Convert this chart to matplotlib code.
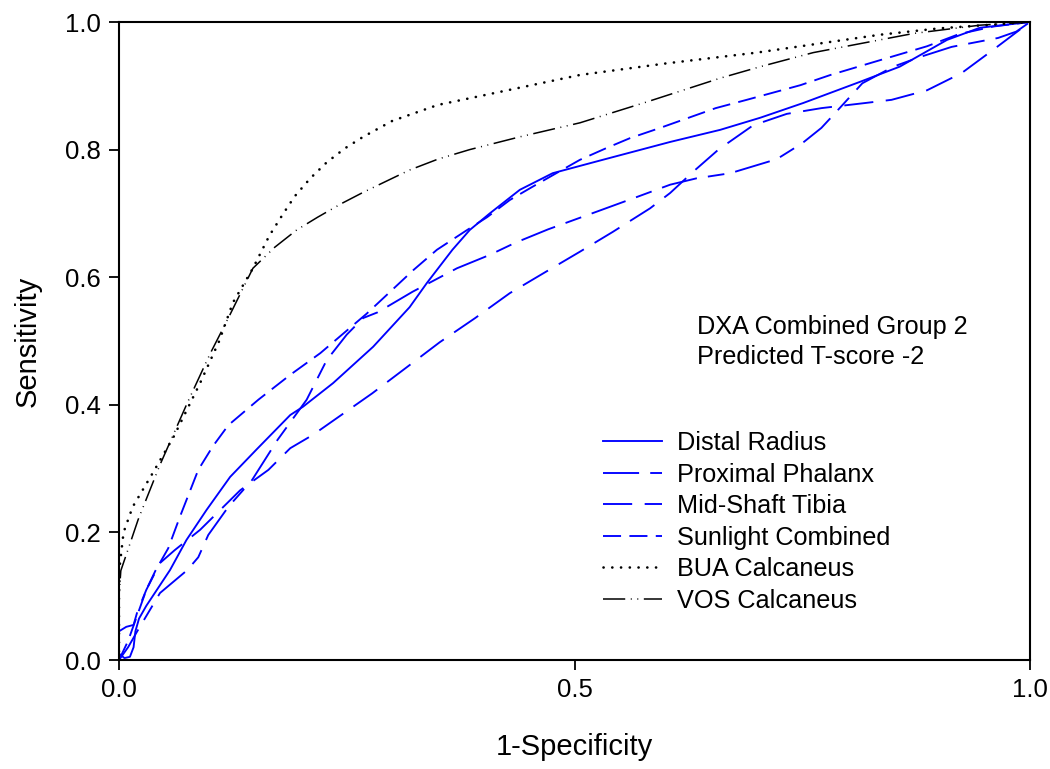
import matplotlib
matplotlib.use("Agg")
import matplotlib.pyplot as plt

plt.rcParams['font.family'] = ['Liberation Sans', 'DejaVu Sans']
plt.rcParams['lines.scale_dashes'] = False

# ROC curves: (1-specificity, sensitivity)
radius_x = [0, 0.006, 0.012, 0.016, 0.018, 0.022, 0.03, 0.056, 0.074, 0.096, 0.122, 0.151,
            0.188, 0.202, 0.235, 0.279, 0.319, 0.338, 0.366, 0.385, 0.407, 0.44, 0.476,
            0.531, 0.605, 0.66, 0.704, 0.751, 0.813, 0.857, 0.909, 0.945, 1.0]
radius_y = [0.01, 0.003, 0.005, 0.02, 0.045, 0.065, 0.085, 0.141, 0.188, 0.235, 0.287, 0.33,
            0.384, 0.397, 0.434, 0.491, 0.553, 0.591, 0.643, 0.674, 0.70, 0.737, 0.763,
            0.784, 0.812, 0.831, 0.85, 0.873, 0.906, 0.93, 0.972, 0.991, 1.0]

phalanx_x = [0, 0.01, 0.02, 0.045, 0.075, 0.087, 0.098, 0.12, 0.146, 0.174, 0.206, 0.228,
             0.25, 0.268, 0.284, 0.322, 0.371, 0.407, 0.435, 0.471, 0.523, 0.569, 0.605,
             0.634, 0.671, 0.722, 0.75, 0.771, 0.784, 0.816, 0.85, 0.879, 0.914, 0.965,
             0.985, 1.0]
phalanx_y = [0, 0.02, 0.045, 0.105, 0.141, 0.161, 0.196, 0.24, 0.282, 0.345, 0.408, 0.47,
             0.51, 0.536, 0.545, 0.577, 0.614, 0.635, 0.654, 0.675, 0.702, 0.726, 0.745,
             0.755, 0.763, 0.785, 0.81, 0.834, 0.854, 0.904, 0.93, 0.945, 0.961, 0.975,
             0.985, 1.0]

tibia_x = [0, 0.008, 0.016, 0.02, 0.03, 0.045, 0.061, 0.089, 0.133, 0.164, 0.188, 0.213,
           0.239, 0.278, 0.316, 0.352, 0.391, 0.429, 0.468, 0.506, 0.542, 0.583, 0.605,
           0.63, 0.658, 0.696, 0.733, 0.771, 0.819, 0.848, 0.887, 0.925, 0.962, 1.0]
tibia_y = [0.045, 0.052, 0.055, 0.075, 0.11, 0.152, 0.172, 0.204, 0.266, 0.298, 0.332, 0.353,
           0.379, 0.418, 0.459, 0.498, 0.536, 0.575, 0.608, 0.64, 0.671, 0.708, 0.732,
           0.765, 0.80, 0.838, 0.856, 0.865, 0.873, 0.878, 0.893, 0.92, 0.959, 1.0]

sunlight_x = [0, 0.01, 0.02, 0.03, 0.04, 0.054, 0.067, 0.087, 0.103, 0.12, 0.153, 0.188,
              0.221, 0.272, 0.323, 0.349, 0.38, 0.404, 0.429, 0.453, 0.48, 0.506, 0.536,
              0.561, 0.594, 0.655, 0.689, 0.748, 0.781, 0.835, 0.887, 0.922, 0.96, 1.0]
sunlight_y = [0, 0.03, 0.07, 0.11, 0.14, 0.175, 0.225, 0.298, 0.335, 0.368, 0.408, 0.447,
              0.481, 0.543, 0.611, 0.643, 0.672, 0.694, 0.721, 0.741, 0.763, 0.784, 0.803,
              0.818, 0.834, 0.865, 0.878, 0.901, 0.917, 0.94, 0.962, 0.981, 0.993, 1.0]

bua_x = [0, 0, 0.001, 0.005, 0.015, 0.037, 0.06, 0.089, 0.11, 0.125, 0.147, 0.165, 0.18,
         0.193, 0.21, 0.228, 0.248, 0.268, 0.3, 0.35, 0.4, 0.506, 0.6, 0.7, 0.835, 0.9,
         0.98, 1.0]
bua_y = [0, 0.1, 0.15, 0.2, 0.24, 0.293, 0.35, 0.434, 0.5, 0.56, 0.614, 0.665, 0.699,
         0.727, 0.755, 0.78, 0.802, 0.82, 0.845, 0.87, 0.885, 0.917, 0.935, 0.952, 0.98,
         0.99, 0.998, 1.0]

vos_x = [0, 0, 0.002, 0.007, 0.021, 0.045, 0.075, 0.1, 0.12, 0.147, 0.171, 0.195, 0.218,
         0.245, 0.268, 0.3, 0.319, 0.35, 0.385, 0.44, 0.506, 0.58, 0.66, 0.704, 0.762,
         0.872, 0.945, 1.0]
vos_y = [0, 0.1, 0.14, 0.161, 0.22, 0.306, 0.403, 0.48, 0.536, 0.614, 0.647, 0.674, 0.694,
         0.716, 0.733, 0.755, 0.768, 0.785, 0.80, 0.82, 0.842, 0.875, 0.912, 0.93, 0.952,
         0.982, 0.995, 1.0]

labels = ["Distal Radius", "Proximal Phalanx", "Mid-Shaft Tibia", "Sunlight Combined",
          "BUA Calcaneus", "VOS Calcaneus"]

W, H = 1050, 769
fig = plt.figure(figsize=(W / 100, H / 100), dpi=100)
L, R, T, B = 119, 1030, 22, 660
ax = fig.add_axes([L / W, (H - B) / H, (R - L) / W, (B - T) / H])

blue = "#0000ff"
ax.plot(radius_x, radius_y, color=blue, lw=1.35, ls="-", label=labels[0])
ax.plot(phalanx_x, phalanx_y, color=blue, lw=1.35, ls=(0, (26, 8, 12, 8)), label=labels[1])
ax.plot(tibia_x, tibia_y, color=blue, lw=1.35, ls=(0, (21, 9)), label=labels[2])
ax.plot(sunlight_x, sunlight_y, color=blue, lw=1.35, ls=(0, (13, 6)), label=labels[3])
ax.plot(bua_x, bua_y, color="black", lw=1.9, ls=(0, (0.1, 6.2)),
        dash_capstyle="round", label=labels[4])
ax.plot(vos_x, vos_y, color="black", lw=1.1, ls=(0, (16, 4, 0.7, 4, 0.7, 4)),
        label=labels[5])

ax.set_xlim(0, 1)
ax.set_ylim(0, 1)
ax.set_xticks([0, 0.5, 1.0])
ax.set_xticklabels(["0.0", "0.5", "1.0"])
ax.set_yticks([0, 0.2, 0.4, 0.6, 0.8, 1.0])
ax.set_yticklabels(["0.0", "0.2", "0.4", "0.6", "0.8", "1.0"])
ax.tick_params(direction="out", length=7, width=1.3, pad=6, labelsize=18.5)
for s in ax.spines.values():
    s.set_linewidth(1.5)

fig.text(574 / W, 1 - 747 / H, "1-Specificity", ha="center", va="center", fontsize=21)
fig.text(28 / W, 1 - 341 / H, "Sensitivity", ha="center", va="center",
         rotation=90, fontsize=21)

ax.text(0.634, 0.522, "DXA Combined Group 2", fontsize=18.2, ha="left", va="center")
ax.text(0.634, 0.475, "Predicted T-score -2", fontsize=18.2, ha="left", va="center")

ax.legend(loc="upper left", bbox_to_anchor=(0.531, 0.359), frameon=False,
          fontsize=18.2, handlelength=2.33, handletextpad=0.6, labelspacing=0.3,
          borderpad=0, borderaxespad=0)

fig.savefig("out.png", dpi=100)
